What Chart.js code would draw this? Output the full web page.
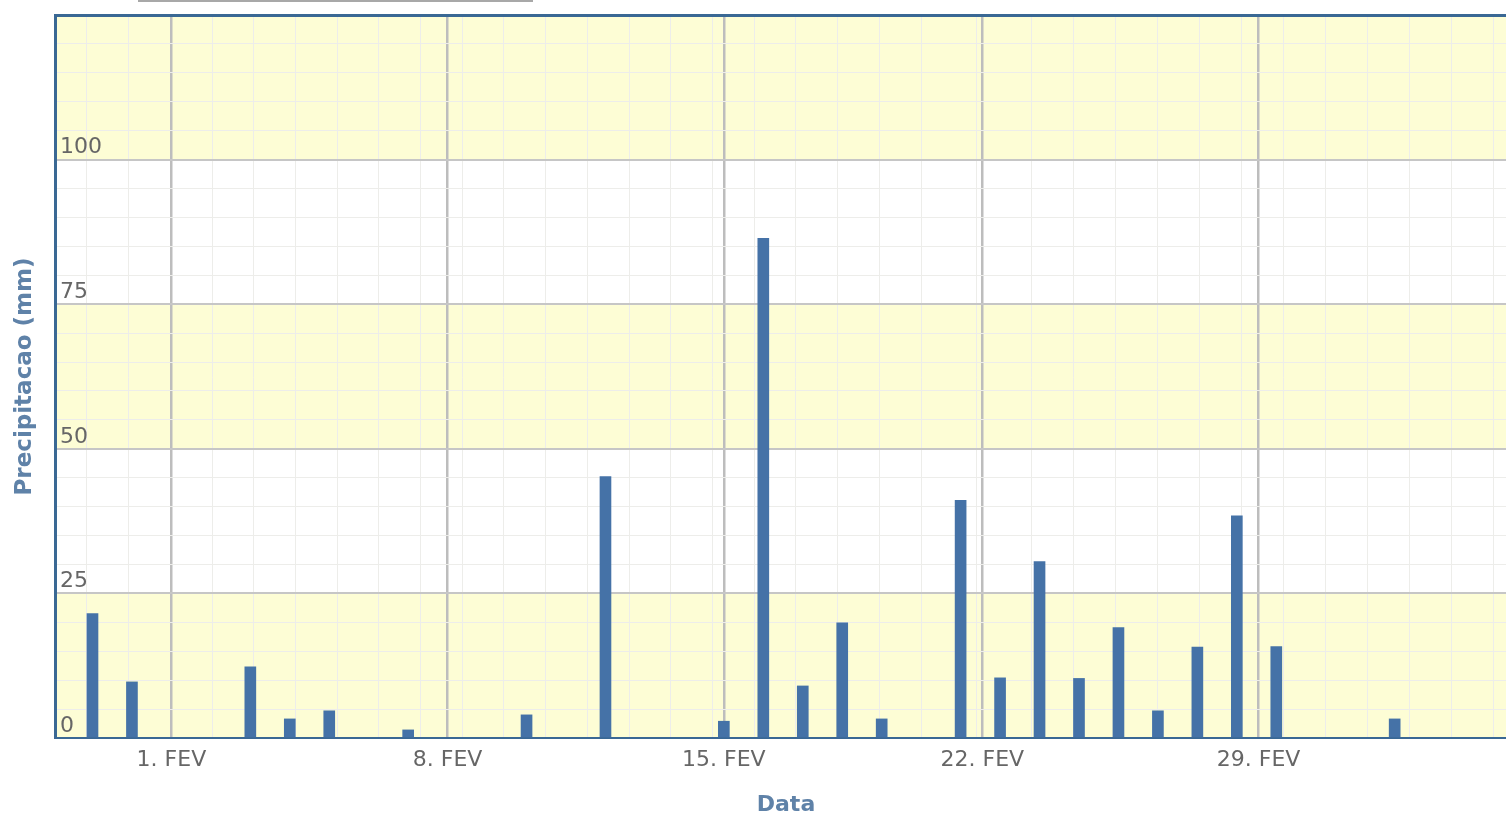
<!DOCTYPE html>
<html lang="pt">
<head>
  <meta charset="UTF-8">
  <title>Precipitacao diaria - Fevereiro</title>
  <script src="https://cdn.jsdelivr.net/npm/chart.js"></script>
  <style>
    body {
      margin: 0;
      background: #fff;
      overflow: hidden;
    }
    #wrap {
      position: relative;
      width: 1530px;
      height: 818px;
    }
    /* cut-off box edge visible at the very top of the screenshot */
    #topEdge {
      position: absolute;
      left: 138px;
      top: 0;
      width: 395px;
      height: 2px;
      background: #a8a8a8;
    }
  </style>
</head>
<body>
  <div id="wrap">
    <div id="topEdge"></div>
    <canvas id="rainChart" width="1530" height="818"></canvas>
  </div>

  <script>
    // Day index: 1 = 1. FEV, 0 = 31 jan, -1 = 30 jan, 30+ = march
    const days = [-1, 0, 3, 4, 5, 7, 10, 12, 15, 16, 17, 18, 19, 21, 22, 23, 24, 25, 26, 27, 28, 29, 32];
    const rain = [21.5, 9.7, 12.3, 3.3, 4.7, 1.4, 4.0, 45.2, 2.9, 86.4, 9.0, 19.9, 3.3, 41.1, 10.4, 30.5, 10.3, 19.1, 4.7, 15.7, 38.4, 15.8, 3.3];

    // x axis labels and where their grid lines sit (in day units)
    const tickLabels = ['1. FEV', '8. FEV', '15. FEV', '22. FEV', '29. FEV'];
    const tickPositions = [1, 8, 15, 21.55, 28.55];

    const yLabelValues = [0, 25, 50, 75, 100];
    const bandRanges = [[0, 25], [50, 75], [100, 125]];

    const xMin = -1.95, xMax = 35.1;
    const blue = '#3a6894';
    const titleColor = '#5f82a8';

    // light yellow bands behind the plot
    const bandPlugin = {
      id: 'bands',
      beforeDraw(chart) {
        const { ctx, chartArea, scales } = chart;
        ctx.save();
        ctx.fillStyle = '#fdfdd5';
        bandRanges.forEach(([from, to]) => {
          const y1 = scales.y.getPixelForValue(to);
          const y2 = scales.y.getPixelForValue(from);
          ctx.fillRect(chartArea.left, y1, chartArea.right - chartArea.left, y2 - y1);
        });
        ctx.restore();
      }
    };

    const ctx = document.getElementById('rainChart').getContext('2d');
    const chart = new Chart(ctx, {
      type: 'bar',
      data: {
        datasets: [{
          label: 'Precipitacao',
          data: days.map((d, i) => ({ x: d, y: rain[i] })),
          backgroundColor: '#4572A7',
          borderWidth: 0,
          barThickness: 11
        }]
      },
      plugins: [bandPlugin],
      options: {
        responsive: false,
        animation: false,
        layout: { padding: { top: 15, left: 0, right: 13, bottom: 0 } },
        plugins: {
          legend: { display: false },
          tooltip: { enabled: false }
        },
        scales: {
          x: {
            type: 'linear',
            position: 'bottom',
            min: xMin,
            max: xMax,
            offset: false,
            afterBuildTicks(scale) {
              scale.ticks = tickPositions.map(v => ({ value: v }));
            },
            afterFit(scale) {
              scale.height = 80;
              scale.paddingLeft = 0;
              scale.paddingRight = 0;
            },
            grid: {
              offset: false,
              color: '#bdbdbd',
              lineWidth: 2.5,
              drawTicks: false
            },
            border: { color: blue, width: 2 },
            ticks: {
              autoSkip: false,
              maxRotation: 0,
              padding: 9,
              color: '#666',
              font: { family: 'DejaVu Sans', size: 22 },
              callback: (v, i) => tickLabels[i]
            },
            title: {
              display: true,
              text: 'Data',
              color: titleColor,
              font: { family: 'DejaVu Sans', size: 22, weight: 'bold' },
              padding: { top: 0, bottom: 0 }
            }
          },
          // minor vertical grid + top border of the plot
          x2: {
            type: 'linear',
            axis: 'x',
            position: 'top',
            min: xMin,
            max: xMax,
            afterBuildTicks(scale) {
              const t = [];
              for (let v = -1.15; v < 21; v += 1.09) t.push({ value: v });
              for (let v = 22.44; v <= xMax; v += 1.097) t.push({ value: v });
              scale.ticks = t;
            },
            afterFit(scale) { scale.height = 0; },
            grid: { color: '#ededea', lineWidth: 1, drawTicks: false, z: -2 },
            border: { color: blue, width: 3 },
            ticks: { display: false }
          },
          y: {
            min: 0,
            max: 125,
            afterFit(scale) {
              scale.width = 55;
              scale.paddingTop = 0;
              scale.paddingBottom = 0;
            },
            grid: {
              drawTicks: false,
              color: c => yLabelValues.includes(c.tick.value) || c.tick.value === 125 ? '#c6c6c6' : '#ededea',
              lineWidth: c => yLabelValues.includes(c.tick.value) ? 2 : 1
            },
            border: { color: blue, width: 3 },
            ticks: {
              stepSize: 5,
              autoSkip: false,
              mirror: true,
              padding: 5,
              labelOffset: -12,
              color: '#666',
              font: { family: 'DejaVu Sans', size: 22 },
              callback: v => yLabelValues.includes(v) ? String(v) : ''
            },
            title: {
              display: true,
              text: 'Precipitacao (mm)',
              color: titleColor,
              font: { family: 'DejaVu Sans', size: 23, weight: 'bold' },
              padding: { top: 11, bottom: 0 }
            }
          }
        }
      }
    });
  </script>
</body>
</html>
